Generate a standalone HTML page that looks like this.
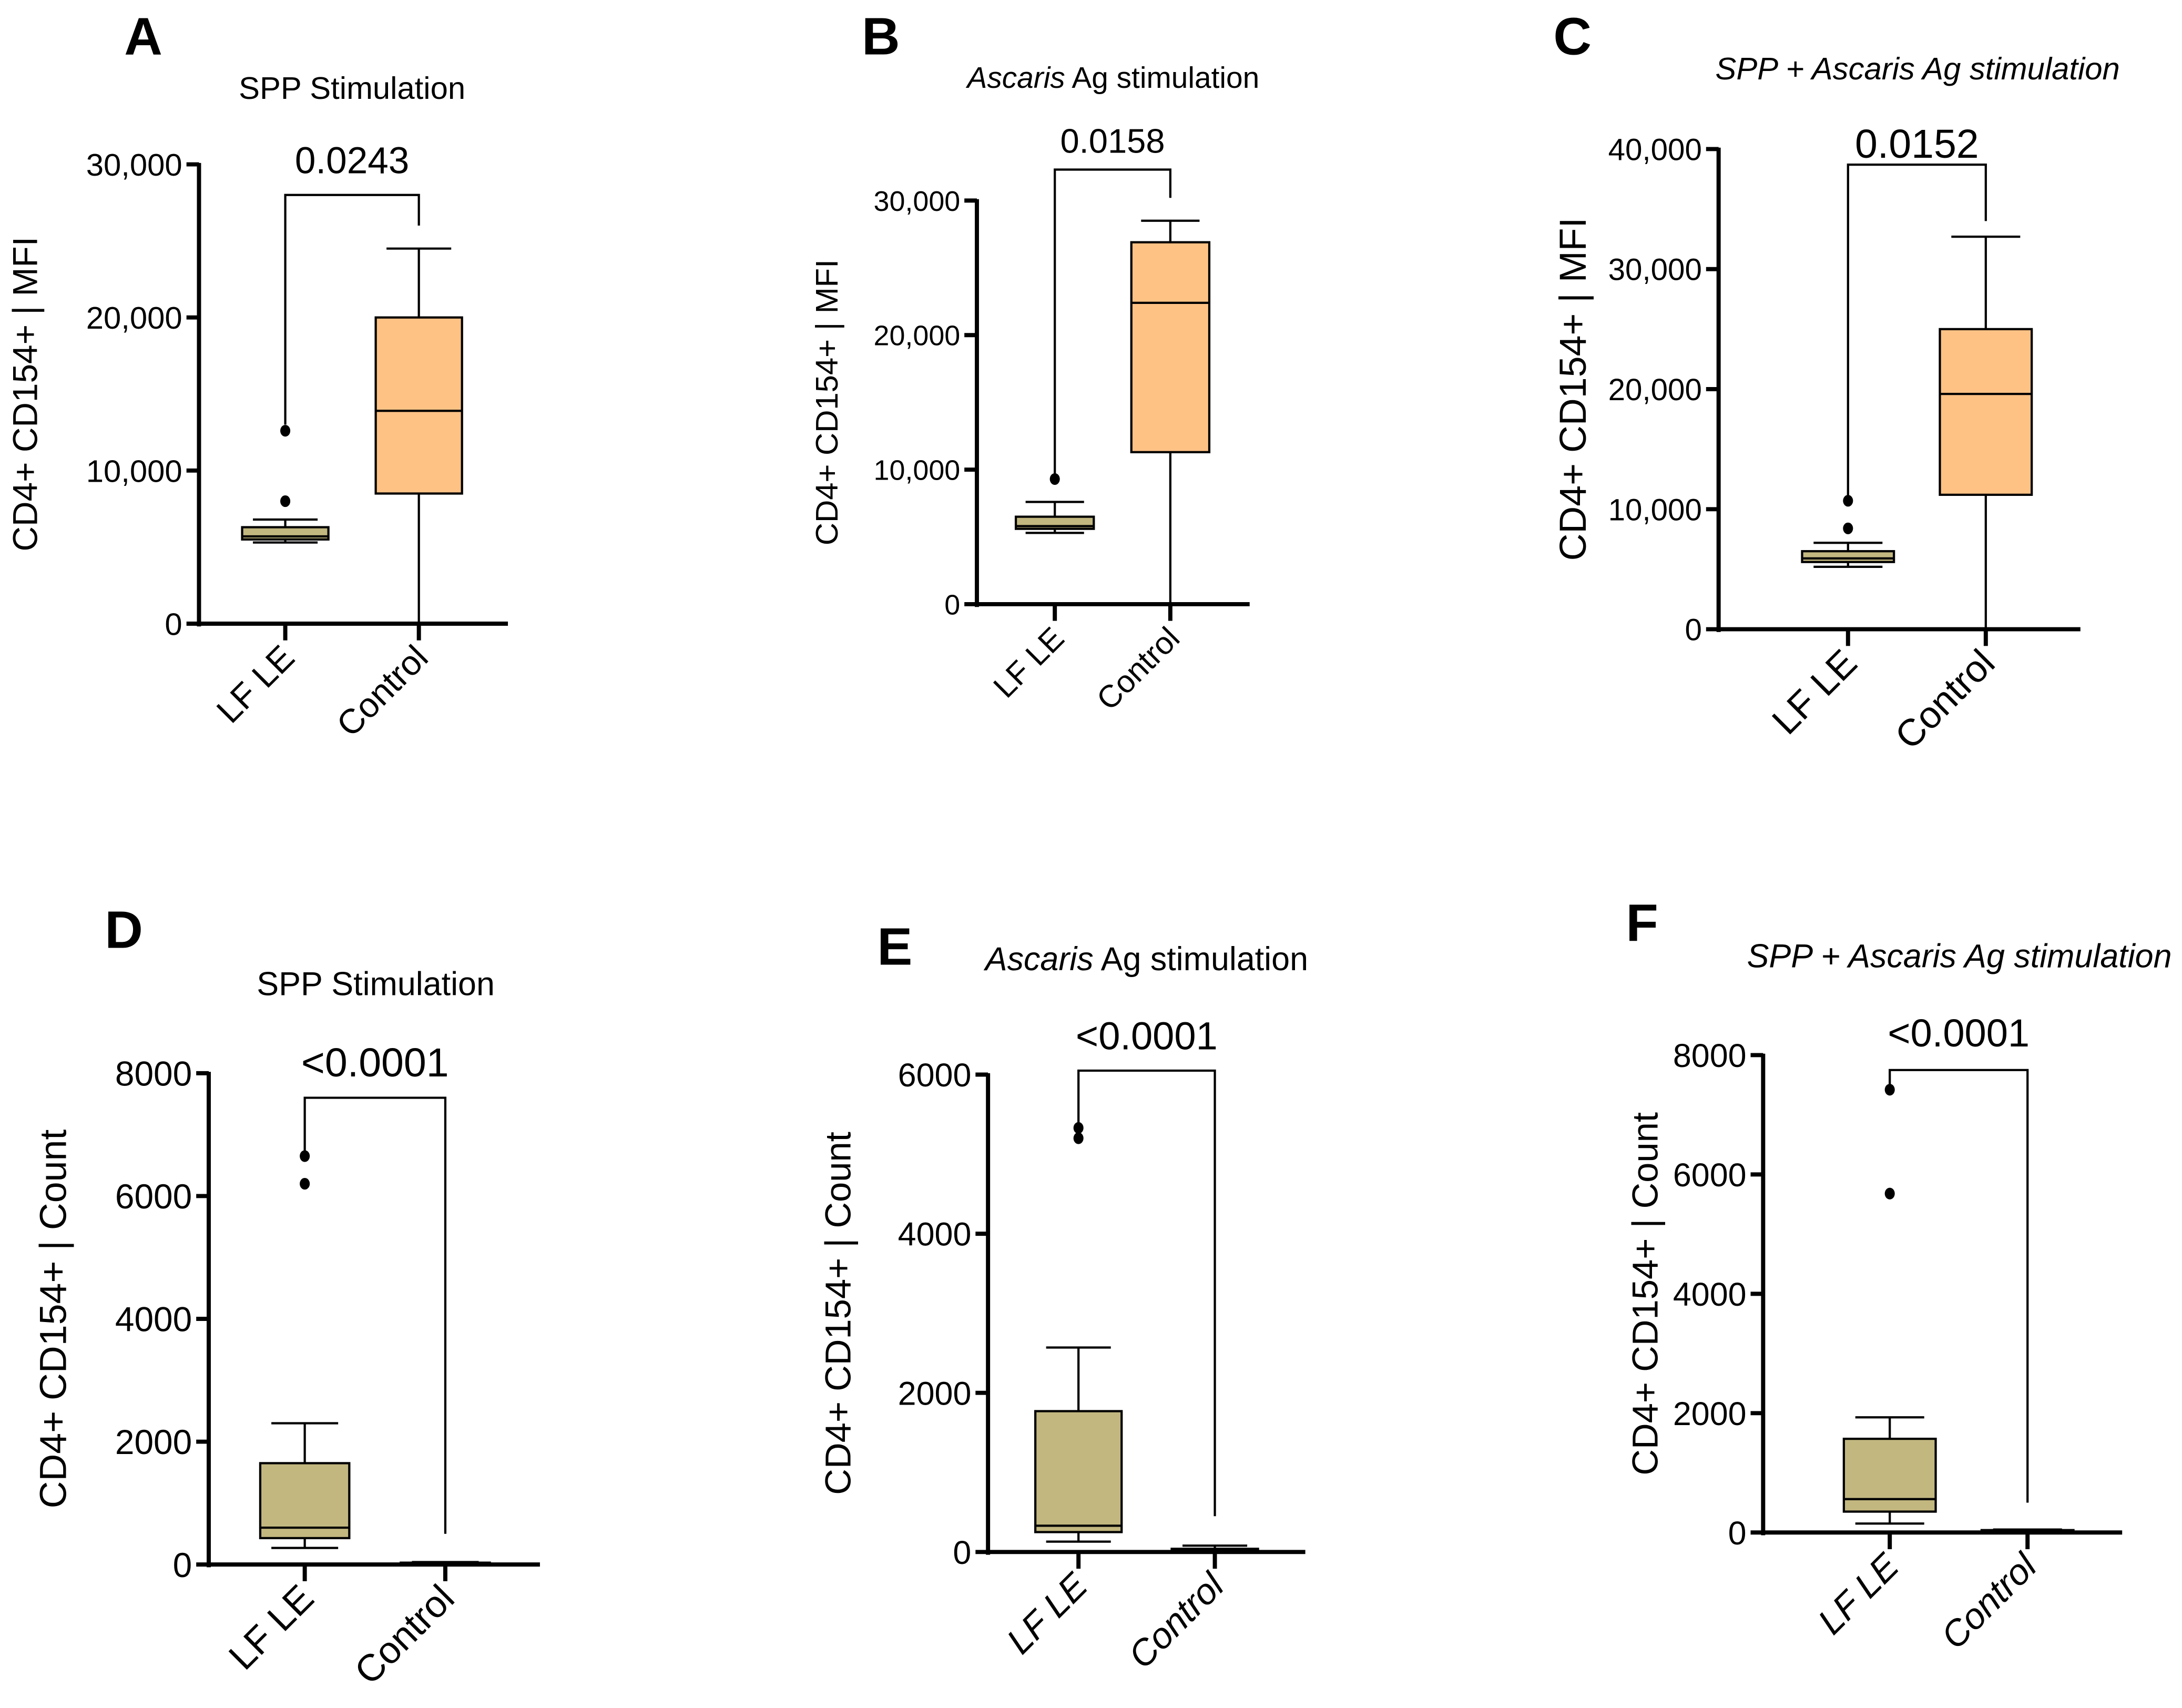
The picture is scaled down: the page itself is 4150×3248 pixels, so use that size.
<!DOCTYPE html>
<html><head><meta charset="utf-8"><style>
html,body{margin:0;padding:0;background:#fff}
svg{display:block}
text{font-family:"Liberation Sans",Arial,sans-serif;fill:#000}
</style></head><body>
<svg id="fig" width="4150" height="3248" viewBox="0 0 1568 1227" xmlns="http://www.w3.org/2000/svg"></svg>
<script>
const NS="http://www.w3.org/2000/svg";
const svg=document.getElementById('fig');
const categories=["LF LE","Control"];
const panelLetters=["A","B","C","D","E","F"];
const yMaxes=[30000,30000,40000,8000,6000,8000];
const tickA=[0,10000,20000,30000];
const tickB=[0,10000,20000,30000];
const tickC=[0,10000,20000,30000,40000];
const tickD=[0,2000,4000,6000,8000];
const tickE=[0,2000,4000,6000];
const tickF=[0,2000,4000,6000,8000];
const pValues=["0.0243","0.0158","0.0152","<0.0001","<0.0001","<0.0001"];
// [min,q1,median,q3,max] for LF LE and Control
const lfleA=[5300,5500,5700,6300,6800], ctrlA=[0,8500,13900,20000,24500];
const lfleB=[5300,5600,5800,6500,7600], ctrlB=[0,11300,22400,26900,28500];
const lfleC=[5200,5600,5900,6500,7200], ctrlC=[0,11200,19600,25000,32700];
const lfleD=[270,430,600,1650,2300], ctrlD=[10,15,20,30,40];
const lfleE=[130,250,330,1770,2570], ctrlE=[10,20,30,40,80];
const lfleF=[150,350,560,1570,1930], ctrlF=[10,20,30,40,50];
const outA=[8000,12600], outB=[9300], outC=[8400,10700];
const outD=[6200,6650], outE=[5200,5330], outF=[5680,7420];
const bracketA=[28000,13000,26000], bracketB=[32300,9500,30200], bracketC=[38700,11000,34000];
const bracketD=[7600,6700,500], bracketE=[6050,5400,450], bracketF=[7750,7500,500];

const FS=1.13;
const layout=[
 {ax:143,y0:448,yt:118,xe:365,cx:[205,301],bw:62,fs:20,lfs:22,ttl:[253,64],ttlParts:[["SPP Stimulation",false]],L:[103,25],ticks:tickA,fmt:true,pY:115,catI:false,ylx:18,tfs:20},
 {ax:702,y0:434,yt:144,xe:898,cx:[758,841],bw:56,fs:18,lfs:20,ttl:[800,56],ttlParts:[["Ascaris",true],[" Ag stimulation",false]],L:[633,25],ticks:tickB,fmt:true,pY:101,catI:false,ylx:594,tfs:19},
 {ax:1235,y0:452,yt:107,xe:1495,cx:[1328,1427],bw:66,fs:19.5,lfs:24,ttl:[1378,50],ttlParts:[["SPP + Ascaris Ag stimulation",true]],L:[1130,25],ticks:tickC,fmt:true,pY:103,catI:false,ylx:1130,tfs:20},
 {ax:150,y0:1124,yt:771,xe:388,cx:[219,320],bw:64,fs:22,lfs:24,ttl:[270,708],ttlParts:[["SPP Stimulation",false]],L:[89,667],ticks:tickD,fmt:false,pY:763,catI:false,ylx:38,tfs:21},
 {ax:710,y0:1115,yt:772,xe:938,cx:[775,873],bw:62,fs:21,lfs:23,ttl:[824,690],ttlParts:[["Ascaris",true],[" Ag stimulation",false]],L:[643,679],ticks:tickE,fmt:false,pY:744,catI:true,ylx:602,tfs:21},
 {ax:1267,y0:1101,yt:758,xe:1525,cx:[1358,1457],bw:66,fs:21,lfs:23,ttl:[1408,688],ttlParts:[["SPP + Ascaris Ag stimulation",true]],L:[1180,662],ticks:tickF,fmt:false,pY:742,catI:true,ylx:1182,tfs:21}
];
const boxes=[[lfleA,ctrlA],[lfleB,ctrlB],[lfleC,ctrlC],[lfleD,ctrlD],[lfleE,ctrlE],[lfleF,ctrlF]];
const outs=[outA,outB,outC,outD,outE,outF];
const brackets=[bracketA,bracketB,bracketC,bracketD,bracketE,bracketF];
const yLabels=["CD4+ CD154+ | MFI","CD4+ CD154+ | MFI","CD4+ CD154+ | MFI","CD4+ CD154+ | Count","CD4+ CD154+ | Count","CD4+ CD154+ | Count"];
const fills=["#c2b77f","#ffc285"];

function el(tag,attrs,parent){const e=document.createElementNS(NS,tag);for(const k in attrs)e.setAttribute(k,attrs[k]);(parent||svg).appendChild(e);return e;}

layout.forEach((L,i)=>{
  const fs=L.fs*FS, lfs=L.lfs*FS, tfs=L.tfs*FS;
  const g=el('g',{});
  
  
  const y=v=>L.y0-(v/yMaxes[i])*(L.y0-L.yt);
  const lt=el('text',{x:L.L[0],y:L.L[1]+14,'font-size':38,'font-weight':'bold','text-anchor':'middle'},g);
  lt.textContent=panelLetters[i];
  
  
  const tt=el('text',{x:L.ttl[0],y:L.ttl[1]+7,'font-size':tfs,'text-anchor':'middle'},g);
  
  
  L.ttlParts.forEach(p=>{const s=el('tspan',p[1]?{'font-style':'italic'}:{},tt);s.textContent=p[0];});
  const ya=el('line',{x1:L.ax,y1:L.yt-1,x2:L.ax,y2:L.y0+2,stroke:'#000','stroke-width':3},g);
  
  
  L.ticks.forEach(t=>{
    el('line',{x1:L.ax-9,y1:y(t),x2:L.ax,y2:y(t),stroke:'#000','stroke-width':3},g);
    const tx=el('text',{x:L.ax-12,y:y(t)+fs*0.36,'font-size':fs,'text-anchor':'end'},g);
    tx.textContent=L.fmt?t.toLocaleString('en-US'):String(t);
    
    
  });
  const xa=el('line',{x1:L.ax-1,y1:L.y0,x2:L.xe,y2:L.y0,stroke:'#000','stroke-width':3},g);
  
  
  const yl=el('text',{x:0,y:0,'font-size':lfs,'text-anchor':'middle',transform:`translate(${L.ylx+lfs*0.35},${(L.y0+L.yt)/2}) rotate(-90)`},g);
  yl.textContent=yLabels[i];
  
  
  boxes[i].forEach((b,k)=>{
    const cx=L.cx[k], hw=L.bw/2;
    el('line',{x1:cx,y1:L.y0,x2:cx,y2:L.y0+12,stroke:'#000','stroke-width':3},g);
    const cl=el('text',{x:0,y:0,'font-size':lfs,'text-anchor':'end','font-style':L.catI?'italic':'normal',transform:`translate(${cx+8},${L.y0+26}) rotate(-45)`},g);
    cl.textContent=categories[k];
    
    
    const bg=el('g',{},g);
    
    
    el('line',{x1:cx,y1:y(b[0]),x2:cx,y2:y(b[1]),stroke:'#000','stroke-width':1.6},bg);
    el('line',{x1:cx,y1:y(b[3]),x2:cx,y2:y(b[4]),stroke:'#000','stroke-width':1.6},bg);
    el('line',{x1:cx-hw*0.75,y1:y(b[0]),x2:cx+hw*0.75,y2:y(b[0]),stroke:'#000','stroke-width':1.6},bg);
    el('line',{x1:cx-hw*0.75,y1:y(b[4]),x2:cx+hw*0.75,y2:y(b[4]),stroke:'#000','stroke-width':1.6},bg);
    el('rect',{x:cx-hw,y:y(b[3]),width:L.bw,height:Math.max(y(b[1])-y(b[3]),1),fill:fills[k],stroke:'#000','stroke-width':1.6},bg);
    el('line',{x1:cx-hw,y1:y(b[2]),x2:cx+hw,y2:y(b[2]),stroke:'#000','stroke-width':1.6},bg);
  });
  outs[i].forEach(o=>{
    const c=el('ellipse',{cx:L.cx[0],cy:y(o),rx:3.6,ry:4.2,fill:'#000'},g);
    
    
  });
  const br=brackets[i];
  const p=el('polyline',{points:`${L.cx[0]},${y(br[1])} ${L.cx[0]},${y(br[0])} ${L.cx[1]},${y(br[0])} ${L.cx[1]},${y(br[2])}`,fill:'none',stroke:'#000','stroke-width':1.6},g);
  
  
  const pv=el('text',{x:(L.cx[0]+L.cx[1])/2,y:L.pY+lfs*0.38,'font-size':lfs+2,'text-anchor':'middle'},g);
  pv.textContent=pValues[i];
  
  
});
</script>
</body></html>
